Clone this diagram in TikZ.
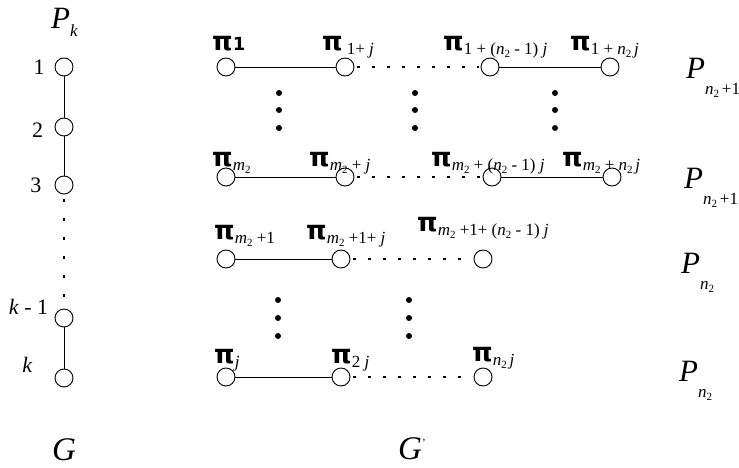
\documentclass[tikz,border=0pt]{standalone}
\usepackage{fontspec}
\setmainfont{Liberation Serif}
\newfontfamily\pifont{DejaVu Sans}
\newcommand{\PI}{{\pifont\bfseries\fontsize{26}{26}\selectfont π}}
\newcommand{\sbx}[1]{\raisebox{-4pt}{\fontsize{17}{17}\selectfont #1}}
\newcommand{\ssx}[1]{\raisebox{-3pt}{\fontsize{11}{11}\selectfont #1}}
\newcommand{\mtwo}{\textit{m}\ssx{2}}
\newcommand{\ntwo}{\textit{n}\ssx{2}}
\newcommand{\bigP}[1]{{\fontsize{31}{31}\selectfont\textit{P}}\raisebox{-16pt}{\fontsize{17}{17}\selectfont #1}}
\tikzset{
  vtx/.style={circle,draw,minimum size=18pt,inner sep=0pt,line width=0.9pt},
  edge/.style={line width=0.9pt},
  dotted line/.style={line width=1.6pt,dash pattern=on 3pt off 12pt,shorten <=3pt,shorten >=2pt},
  vdotted/.style={line width=1.5pt,dash pattern=on 3pt off 16pt,shorten <=5pt,shorten >=4pt},
  ell/.style={circle,fill,inner sep=0pt,minimum size=6pt},
  lbl/.style={inner sep=0pt,anchor=base west},
  num/.style={inner sep=0pt,font=\fontsize{22}{22}\selectfont}
}
\begin{document}
\begin{tikzpicture}[x=1pt,y=-1pt]
\useasboundingbox (0,0) rectangle (739,468);
% left path P_k
\node[lbl] (pk) at (51,29) {\bigP{\raisebox{8pt}{\textit{k}}}};
\node[vtx] (v1) at (64,67) {};
\node[vtx] (v2) at (64,127) {};
\node[vtx] (v3) at (64,185) {};
\node[vtx] (vk1) at (64,318) {};
\node[vtx] (vk) at (64,378) {};
\node[num] (n1) at (39,67.5) {1};
\node[num] (n2) at (37.5,130) {2};
\node[num] (n3) at (36,185) {3};
\node[num] (nk1) at (28.5,307) {\textit{k} - 1};
\node[num] (nk) at (27.5,365) {\textit{k}};
\draw[edge] (v1) -- (v2);
\draw[edge] (v2) -- (v3);
\draw[vdotted] (v3) -- (vk1);
\draw[edge] (vk1) -- (vk);
\node[lbl,font=\fontsize{33}{33}\selectfont] (G) at (52,460) {\textit{G}};
% grid
\node[vtx] (a1) at (226,67) {};
\node[vtx] (a2) at (345,67) {};
\node[vtx] (a3) at (490,67) {};
\node[vtx] (a4) at (610,67) {};
\node[vtx] (b1) at (226,177) {};
\node[vtx] (b2) at (345,177) {};
\node[vtx] (b3) at (492,177) {};
\node[vtx] (b4) at (612,177) {};
\node[vtx] (c1) at (226,259) {};
\node[vtx] (c2) at (341,259) {};
\node[vtx] (c3) at (483,259) {};
\node[vtx] (d1) at (226,377) {};
\node[vtx] (d2) at (341,377) {};
\node[vtx] (d3) at (483,377) {};
\draw[edge] (a1) -- (a2);
\draw[dotted line] (a2) -- (a3);
\draw[edge] (a3) -- (a4);
\draw[edge] (b1) -- (b2);
\draw[dotted line] (b2) -- (b3);
\draw[edge] (b3) -- (b4);
\draw[edge] (c1) -- (c2);
\draw[dotted line] (c2) -- (c3);
\draw[edge] (d1) -- (d2);
\draw[dotted line] (d2) -- (d3);
% vertical ellipses
\foreach \x/\n in {279/p,415/q,555/r}{
  \node[ell] (e\n1) at (\x,93) {};
  \node[ell] (e\n2) at (\x,110) {};
  \node[ell] (e\n3) at (\x,128) {};
}
\foreach \x/\n in {278/s,409/t}{
  \node[ell] (e\n1) at (\x,300) {};
  \node[ell] (e\n2) at (\x,318) {};
  \node[ell] (e\n3) at (\x,336) {};
}
% labels row 1
\node[lbl] (l11) at (212,51) {\PI{\pifont\bfseries\fontsize{18}{18}\selectfont 1}};
\node[lbl] (l12) at (322,51) {\PI\hspace{4pt}\sbx{1+ \textit{j}}};
\node[lbl] (l13) at (443,51) {\PI\sbx{1 + (\ntwo\ - 1) \textit{j}}};
\node[lbl] (l14) at (570,51) {\PI\sbx{1 + \ntwo\,\textit{j}}};
% row 2
\node[lbl] (l21) at (212,167) {\PI\sbx{\mtwo}};
\node[lbl] (l22) at (309,167) {\PI\sbx{\mtwo\ + \textit{j}}};
\node[lbl] (l23) at (431,167) {\PI\sbx{\mtwo\ + (\ntwo\ - 1) \textit{j}}};
\node[lbl] (l24) at (562,167) {\PI\sbx{\mtwo\ + \ntwo\,\textit{j}}};
% row 3
\node[lbl] (l31) at (214,239) {\PI\sbx{\mtwo\ +1}};
\node[lbl] (l32) at (306,239) {\PI\sbx{\mtwo\ +1+ \textit{j}}};
\node[lbl] (l33) at (417,231) {\PI\sbx{\mtwo\ +1+ (\ntwo\ - 1) \textit{j}}};
% row 4
\node[lbl] (l41) at (214,363) {\PI\sbx{\textit{j}}};
\node[lbl] (l42) at (331,363) {\PI\sbx{2 \textit{j}}};
\node[lbl] (l43) at (472,361) {\PI\sbx{\ntwo\,\textit{j}}};
% right P labels
\node[lbl] (p1) at (686,79) {\bigP{\ntwo\,+1}};
\node[lbl] (p2) at (684,189) {\bigP{\ntwo\,+1}};
\node[lbl] (p3) at (681,273) {\bigP{\ntwo}};
\node[lbl] (p4) at (679,381) {\bigP{\ntwo}};
\node[lbl,font=\fontsize{33}{33}\selectfont] (Gp) at (398,459) {\textit{G}\raisebox{13pt}{\fontsize{11}{11}\selectfont '}};
\end{tikzpicture}
\end{document}
